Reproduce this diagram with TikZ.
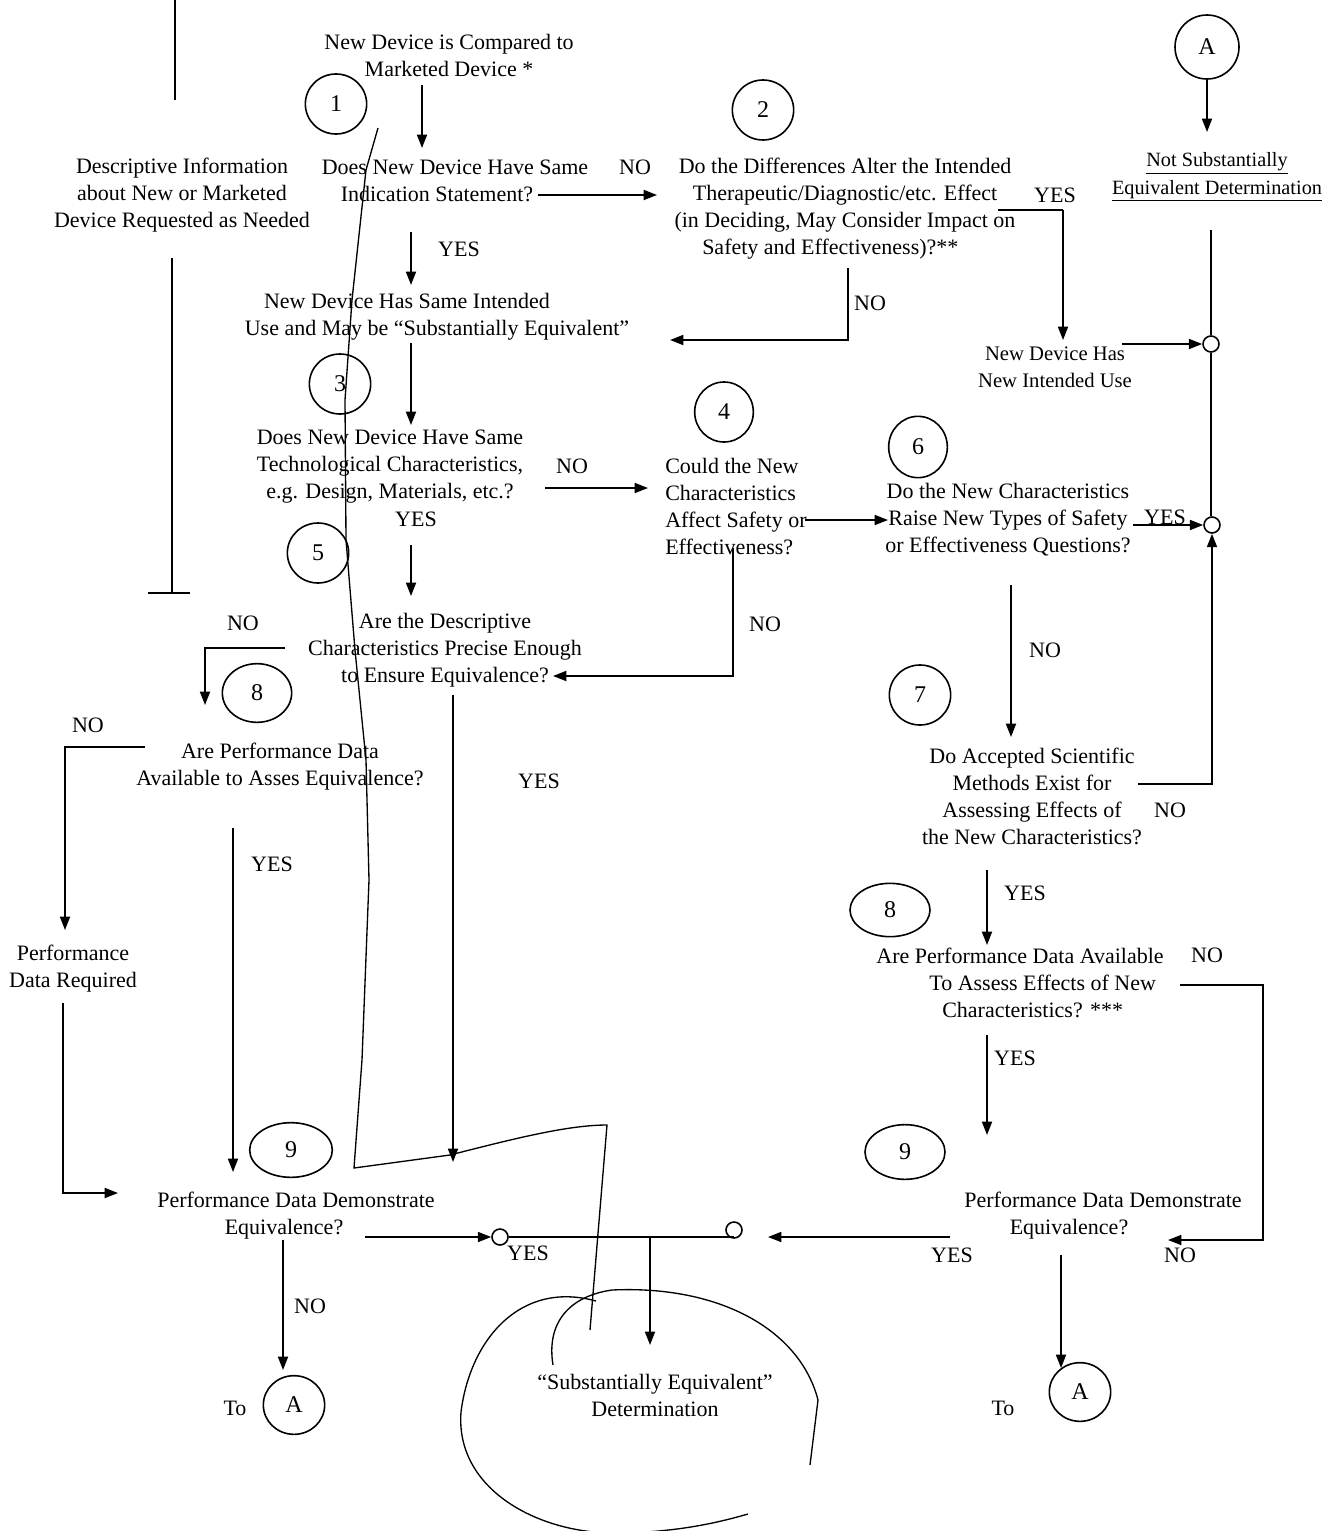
\documentclass[tikz,border=0pt]{standalone}
\usepackage{fontspec}
\setmainfont{Liberation Serif}
\usetikzlibrary{arrows.meta,shapes.geometric}
\begin{document}
\begin{tikzpicture}[x=0.75pt,y=-0.75pt,
  txt/.style={align=center,inner sep=0pt,font=\fontsize{16.5pt}{20.25pt}\selectfont},
  lbl/.style={inner sep=0pt,font=\fontsize{16.5pt}{20pt}\selectfont},
  num/.style={draw,ellipse,line width=1.2pt,inner sep=0pt,minimum width=46pt,minimum height=45pt,font=\fontsize{18pt}{20pt}\selectfont},
  junc/.style={draw,circle,line width=1.2pt,minimum size=12pt,inner sep=0pt},
  arr/.style={line width=1.3pt,-{Triangle[length=10pt,width=7.5pt]}},
  ln/.style={line width=1.3pt},
  hand/.style={line width=1pt}]
\useasboundingbox[fill=white] (0,0) rectangle (1333,1531);

% ---------- text nodes ----------
\node[txt] (t0) at (449,55) {New Device is Compared to\\Marketed Device *};
\node[txt] (desc) at (182,195) {Descriptive Information\\about New or Marketed\\Device Requested as Needed};
\node[txt] (q1) at (455,181) {Does New Device Have Same\\Indication Statement?\hspace*{27pt}};
\node[txt] (q2) at (845,209) {Do the Differences Alter the Intended\\Therapeutic/Diagnostic/etc. Effect\hspace*{10pt}\\(in Deciding, May Consider Impact on\hspace*{10pt}\\Safety and Effectiveness)?**\hspace*{22pt}};
\node[txt,font=\fontsize{15.2pt}{20.5pt}\selectfont] (nse) at (1217,177) {\underline{Not Substantially}\\\underline{Equivalent Determination}};
\node[txt,font=\fontsize{15.5pt}{20pt}\selectfont] (newuse) at (1055,367) {New Device Has\\New Intended Use};
\node[txt] (same) at (437,317) {New Device Has Same Intended\hspace*{45pt}\\Use and May be “Substantially Equivalent”};
\node[txt] (q3) at (390,467) {Does New Device Have Same\\Technological Characteristics,\\e.g. Design, Materials, etc.?};
\node[txt,align=left,anchor=west] (q4) at (665,507) {Could the New\\Characteristics\\Affect Safety or\\Effectiveness?};
\node[txt] (q6) at (1008,520) {Do the New Characteristics\\Raise New Types of Safety\\or Effectiveness Questions?};
\node[txt] (q5) at (445,650) {Are the Descriptive\\Characteristics Precise Enough\\to Ensure Equivalence?};
\node[txt] (q8l) at (280,767) {Are Performance Data\\Available to Asses Equivalence?};
\node[txt] (pdr) at (73,969) {Performance\\Data Required};
\node[txt] (q9l) at (296,1216) {Performance Data Demonstrate\\Equivalence?\hspace*{18pt}};
\node[txt] (q7) at (1032,796) {Do Accepted Scientific\\Methods Exist for\\Assessing Effects of\\the New Characteristics?};
\node[txt] (q8r) at (1020,983) {Are Performance Data Available\\\hspace*{34pt}To Assess Effects of New\\\hspace*{19pt}Characteristics? ***};
\node[txt] (q9r) at (1103,1216) {Performance Data Demonstrate\\Equivalence?\hspace*{51pt}};
\node[txt] (sed) at (655,1395) {“Substantially Equivalent”\\Determination};
\node[lbl] (toL) at (235,1408) {To};
\node[lbl] (toR) at (1003,1408) {To};

% ---------- numbered circles ----------
\node[num] (c1) at (336,104) {1};
\node[num] (c2) at (763,110) {2};
\node[num,minimum width=48pt,minimum height=48pt] (cA) at (1207,47) {A};
\node[num] (c3) at (340,384) {3};
\node[num,minimum width=44pt] (c4) at (724,412) {4};
\node[num,minimum width=44pt,minimum height=46pt] (c6) at (918,447) {6};
\node[num] (c5) at (318,553) {5};
\node[num,minimum width=52pt,minimum height=44pt] (c8l) at (257,693) {8};
\node[num] (c7) at (920,695) {7};
\node[num,minimum width=60pt,minimum height=40pt] (c8r) at (890,910) {8};
\node[num,minimum width=62pt,minimum height=41pt] (c9l) at (291,1150) {9};
\node[num,minimum width=60pt,minimum height=41pt] (c9r) at (905,1152) {9};
\node[num,minimum width=46pt,minimum height=44pt] (cAl) at (294,1405) {A};
\node[num,minimum width=46pt,minimum height=44pt] (cAr) at (1080,1392) {A};

% ---------- junctions ----------
\node[junc] (j1) at (1211,344) {};
\node[junc] (j2) at (1212,525) {};
\node[junc] (j3) at (500,1237) {};
\node[junc] (j4) at (734,1230) {};

% ---------- labels ----------
\node[lbl] (l1) at (635,167) {NO};
\node[lbl] (l2) at (459,249) {YES};
\node[lbl] (l3) at (1055,195) {YES};
\node[lbl] (l4) at (870,303) {NO};
\node[lbl] (l5) at (572,466) {NO};
\node[lbl] (l6) at (416,519) {YES};
\node[lbl] (l7) at (1165,517) {YES};
\node[lbl] (l8) at (765,624) {NO};
\node[lbl] (l9) at (243,623) {NO};
\node[lbl] (l10) at (1045,650) {NO};
\node[lbl] (l11) at (88,725) {NO};
\node[lbl] (l12) at (539,781) {YES};
\node[lbl] (l13) at (1170,810) {NO};
\node[lbl] (l14) at (272,864) {YES};
\node[lbl] (l15) at (1025,893) {YES};
\node[lbl] (l16) at (1207,955) {NO};
\node[lbl] (l17) at (1015,1058) {YES};
\node[lbl] (l18) at (528,1253) {YES};
\node[lbl] (l19) at (952,1255) {YES};
\node[lbl] (l20) at (1180,1255) {NO};
\node[lbl] (l21) at (310,1306) {NO};

% ---------- coordinates ----------
\coordinate (a1s) at (422,85);   \coordinate (a1e) at (422,148);
\coordinate (a2s) at (538,195);  \coordinate (a2e) at (657,195);
\coordinate (a3s) at (411,232);  \coordinate (a3e) at (411,285);
\coordinate (a4s) at (998,210);  \coordinate (a4m) at (1063,210); \coordinate (a4e) at (1063,340);
\coordinate (a5s) at (1122,344);
\coordinate (a6s) at (1207,79);  \coordinate (a6e) at (1207,132);
\coordinate (a7s) at (1211,230);
\coordinate (a8s) at (848,268);  \coordinate (a8m) at (848,340); \coordinate (a8e) at (670,340);
\coordinate (a9s) at (411,343);  \coordinate (a9e) at (411,425);
\coordinate (a10s) at (545,488); \coordinate (a10e) at (648,488);
\coordinate (a11s) at (805,520); \coordinate (a11e) at (888,520);
\coordinate (a12s) at (1133,525);
\coordinate (a13s) at (411,545); \coordinate (a13e) at (411,596);
\coordinate (a14s) at (733,548); \coordinate (a14m) at (733,676); \coordinate (a14e) at (553,676);
\coordinate (a15s) at (285,648); \coordinate (a15m) at (205,648); \coordinate (a15e) at (205,705);
\coordinate (a16s) at (453,695); \coordinate (a16e) at (453,1162);
\coordinate (a17s) at (145,747); \coordinate (a17m) at (65,747); \coordinate (a17e) at (65,930);
\coordinate (a18s) at (63,1003); \coordinate (a18m) at (63,1193); \coordinate (a18e) at (118,1193);
\coordinate (a19s) at (233,828); \coordinate (a19e) at (233,1172);
\coordinate (a20s) at (365,1237);
\coordinate (a22s) at (650,1238); \coordinate (a22e) at (650,1345);
\coordinate (a23s) at (283,1240); \coordinate (a23e) at (283,1370);
\coordinate (a24s) at (1011,585); \coordinate (a24e) at (1011,737);
\coordinate (a25s) at (1138,784); \coordinate (a25m) at (1212,784);
\coordinate (a26s) at (987,870);  \coordinate (a26e) at (987,945);
\coordinate (a27s) at (1180,985); \coordinate (a27m) at (1263,985); \coordinate (a27n) at (1263,1240); \coordinate (a27e) at (1168,1240);
\coordinate (a28s) at (987,1035); \coordinate (a28e) at (987,1135);
\coordinate (a29s) at (950,1237); \coordinate (a29e) at (768,1237);
\coordinate (a30s) at (1061,1255); \coordinate (a30e) at (1061,1368);
\coordinate (v1s) at (175,0);   \coordinate (v1e) at (175,100);
\coordinate (v2s) at (172,258); \coordinate (v2e) at (172,593);
\coordinate (v3s) at (148,593); \coordinate (v3e) at (190,593);

% ---------- connectors ----------
\draw[arr] (a1s) -- (a1e);
\draw[arr] (a2s) -- (a2e);
\draw[arr] (a3s) -- (a3e);
\draw[ln] (a4s) -- (a4m); \draw[arr] (a4m) -- (a4e);
\draw[arr] (a5s) -- (j1.west);
\draw[arr] (a6s) -- (a6e);
\draw[ln] (a7s) -- (j1.north);
\draw[ln] (j1.south) -- (j1.south |- j2.north);
\draw[arr] (a8s) -- (a8m) -- (a8e);
\draw[arr] (a9s) -- (a9e);
\draw[arr] (a10s) -- (a10e);
\draw[arr] (a11s) -- (a11e);
\draw[arr] (a12s) -- (j2.west);
\draw[arr] (a13s) -- (a13e);
\draw[arr] (a14s) -- (a14m) -- (a14e);
\draw[arr] (a15s) -- (a15m) -- (a15e);
\draw[arr] (a16s) -- (a16e);
\draw[arr] (a17s) -- (a17m) -- (a17e);
\draw[arr] (a18s) -- (a18m) -- (a18e);
\draw[arr] (a19s) -- (a19e);
\draw[arr] (a20s) -- (j3.west);
\draw[ln] (j3.east) -- (j3.east -| j4.south);
\draw[arr] (a22s) -- (a22e);
\draw[arr] (a23s) -- (a23e);
\draw[arr] (a24s) -- (a24e);
\draw[arr] (a25s) -- (a25m) -- (j2.south);
\draw[arr] (a26s) -- (a26e);
\draw[arr] (a27s) -- (a27m) -- (a27n) -- (a27e);
\draw[arr] (a28s) -- (a28e);
\draw[arr] (a29s) -- (a29e);
\draw[arr] (a30s) -- (a30e);
\draw[ln] (v1s) -- (v1e);
\draw[ln] (v2s) -- (v2e);
\draw[ln] (v3s) -- (v3e);

% ---------- hand-drawn annotation ----------
\draw[hand] (378,128) -- (366,170) -- (352,300) -- (345,400) -- (346,540)
  -- (355,650) -- (366,760) -- (369,880) -- (362,1060) -- (354,1168)
  -- (450,1155) .. controls (520,1137) and (570,1125) .. (607,1125) -- (590,1330);
\draw[hand] (553,1365) .. controls (546,1322) and (570,1296) .. (612,1290)
  .. controls (720,1285) and (800,1330) .. (818,1400) -- (810,1465);
\draw[hand] (596,1301) .. controls (520,1280) and (470,1340) .. (461,1412)
  .. controls (455,1490) and (540,1535) .. (620,1533)
  .. controls (680,1532) and (720,1522) .. (748,1514);
\end{tikzpicture}
\end{document}
